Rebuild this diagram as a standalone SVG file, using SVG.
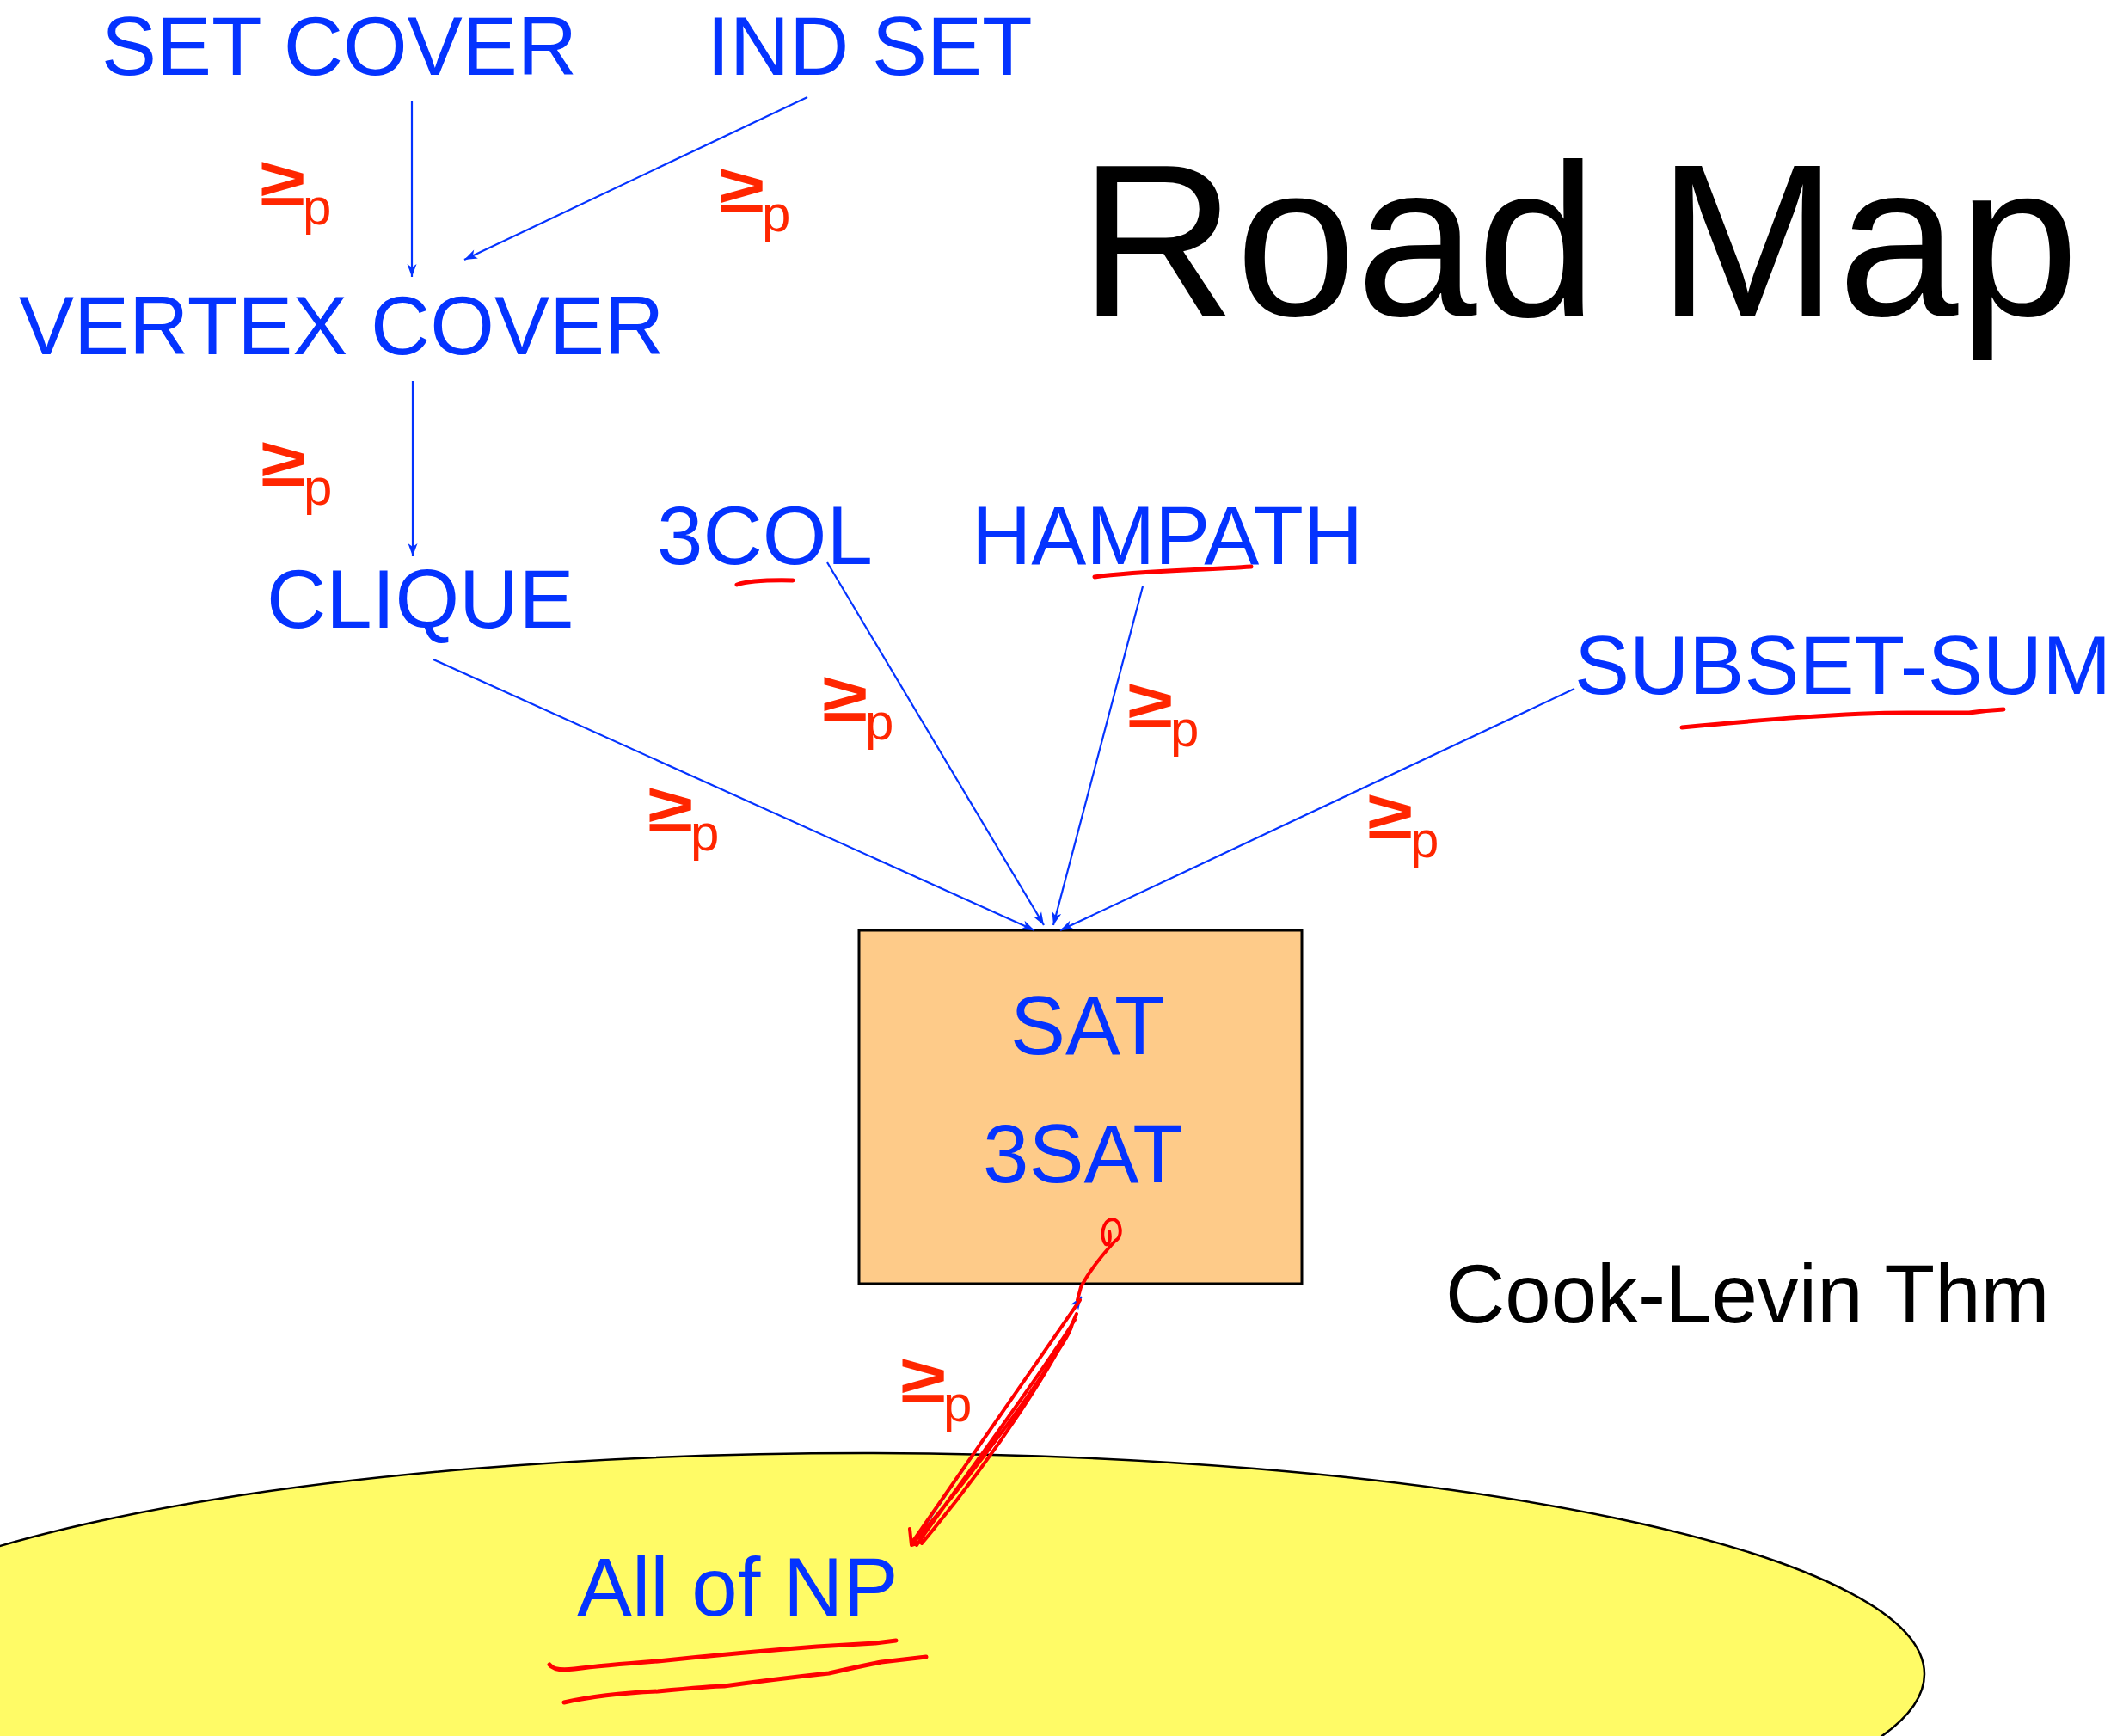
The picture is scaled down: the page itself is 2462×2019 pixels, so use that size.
<svg xmlns="http://www.w3.org/2000/svg" width="2462" height="2019" viewBox="0 0 2462 2019">
<style>
.t{font-family:"Liberation Sans",Arial,Helvetica,sans-serif;fill:#0433FF;font-size:96px}
.blk{fill:#000}
.ge{font-family:"Liberation Sans",Arial,sans-serif;font-weight:bold;font-size:80px;fill:#FF2600}
.p{font-family:"Liberation Sans",Arial,sans-serif;font-size:60px;fill:#FF2600}
.conn{stroke:#0433FF;stroke-width:2.2;fill:none;marker-end:url(#ah)}
.ink{stroke:#FF0000;stroke-width:5;fill:none;stroke-linecap:round;stroke-linejoin:round}
</style>
<defs>
<marker id="ah" markerUnits="userSpaceOnUse" markerWidth="20" markerHeight="14" viewBox="-16 -7 18 14" refX="0" refY="0" orient="auto">
<path d="M0,0 L-15,-5.5 L-11,0 L-15,5.5 Z" fill="#0433FF"/>
</marker>
</defs>
<rect width="2462" height="2019" fill="#fff"/>
<g id="all-np">
<ellipse cx="1005" cy="1947" rx="1233" ry="257" fill="#FFFB66" stroke="#000" stroke-width="2.5"/>
<text class="t" x="671" y="1879">All of NP</text>
</g>
<g id="sat-box">
<rect x="999" y="1082" width="515" height="411" fill="#FECB89" stroke="#000" stroke-width="3"/>
<text class="t" x="1175" y="1226">SAT</text>
<text class="t" x="1143" y="1375">3SAT</text>
</g>
<g id="title"><text class="t blk" x="1255" y="367" style="font-size:252px">Road Map</text></g>
<g id="set-cover"><text class="t" x="118" y="87">SET COVER</text></g>
<g id="ind-set"><text class="t" x="822" y="87">IND SET</text></g>
<g id="vertex-cover"><text class="t" x="22" y="412">VERTEX COVER</text></g>
<g id="clique"><text class="t" x="310" y="730">CLIQUE</text></g>
<g id="3col"><text class="t" x="764" y="656">3COL</text></g>
<g id="hampath"><text class="t" x="1130" y="656">HAMPATH</text></g>
<g id="subset-sum"><text class="t" x="1831" y="807">SUBSET-SUM</text></g>
<g id="cook-levin"><text class="t blk" x="1681" y="1538">Cook-Levin Thm</text></g>
<g id="connectors">
<line class="conn" x1="479" y1="118" x2="479" y2="322"/>
<line class="conn" x1="939" y1="113" x2="540" y2="302"/>
<line class="conn" x1="480" y1="443" x2="480" y2="647"/>
<line class="conn" x1="504" y1="767" x2="1203" y2="1082"/>
<line class="conn" x1="962" y1="654" x2="1214" y2="1076"/>
<line class="conn" x1="1329" y1="682" x2="1225" y2="1076"/>
<line class="conn" x1="1831" y1="801" x2="1233" y2="1082"/>
<line class="conn" x1="1063" y1="1793" x2="1258" y2="1508"/>
<g transform="translate(307,239)"><text class="ge" transform="scale(1.2,1)" x="-4" y="0">≥</text><text class="p" x="45" y="22">p</text></g>
<g transform="translate(841,247)"><text class="ge" transform="scale(1.2,1)" x="-4" y="0">≥</text><text class="p" x="45" y="22">p</text></g>
<g transform="translate(308,565)"><text class="ge" transform="scale(1.2,1)" x="-4" y="0">≥</text><text class="p" x="45" y="22">p</text></g>
<g transform="translate(961,838)"><text class="ge" transform="scale(1.2,1)" x="-4" y="0">≥</text><text class="p" x="45" y="22">p</text></g>
<g transform="translate(1316,846)"><text class="ge" transform="scale(1.2,1)" x="-4" y="0">≥</text><text class="p" x="45" y="22">p</text></g>
<g transform="translate(758,967)"><text class="ge" transform="scale(1.2,1)" x="-4" y="0">≥</text><text class="p" x="45" y="22">p</text></g>
<g transform="translate(1595,975)"><text class="ge" transform="scale(1.2,1)" x="-4" y="0">≥</text><text class="p" x="45" y="22">p</text></g>
<g transform="translate(1052,1631)"><text class="ge" transform="scale(1.2,1)" x="-4" y="0">≥</text><text class="p" x="45" y="22">p</text></g>
</g>
<g id="annotations">
<path class="ink" d="M857,680 Q875,674 922,675"/>
<path class="ink" d="M1273,671 C1320,664 1400,663 1455,659"/>
<path class="ink" d="M1956,846 C2040,838 2150,828 2230,829 L2290,829 Q2310,826 2330,825"/>
<path class="ink" d="M639,1936 Q645,1944 668,1941 Q700,1937 765,1932 Q860,1922 950,1915 L1018,1911 L1042,1908"/>
<path class="ink" d="M656,1980 Q700,1970 765,1967 Q830,1961 842,1961 Q900,1953 964,1946 Q1000,1938 1025,1933 L1077,1927"/>
<path class="ink" style="stroke-width:4" d="M1290,1432 C1292,1440 1290,1449 1286,1447 C1279,1440 1282,1418 1294,1418 C1304,1419 1306,1439 1297,1443 C1285,1456 1268,1476 1257,1497 L1253,1512"/>
<path class="ink" style="stroke-width:4" d="M1256,1512 L1060,1795 M1250,1535 C1210,1600 1120,1720 1066,1797 M1252,1528 C1230,1580 1160,1690 1072,1795 M1247,1540 C1244,1552 1236,1562 1230,1572 C1180,1650 1110,1740 1064,1792 M1058,1778 L1060,1797 L1074,1792"/>
</g>
</svg>
